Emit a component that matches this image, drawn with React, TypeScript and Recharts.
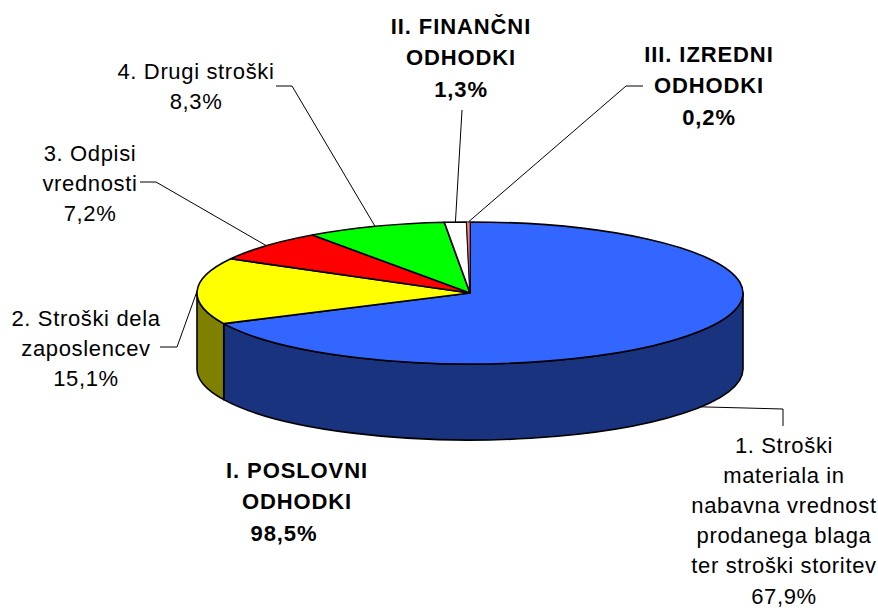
import { Pie, PieChart } from "recharts";

const FONT = '"Liberation Sans", Arial, sans-serif';
const RX = 273;
const RY = 71;
const DEPTH = 76;
const CX = 470;
const CY = 293;

const categories = [
  ["1. Stroški", "materiala in", "nabavna vrednost", "prodanega blaga", "ter stroški storitev"],
  ["2. Stroški dela", "zaposlencev"],
  ["3. Odpisi", "vrednosti"],
  ["4. Drugi stroški"],
  ["II. FINANČNI", "ODHODKI"],
  ["III. IZREDNI", "ODHODKI"],
];
const values = [67.9, 15.1, 7.2, 8.3, 1.3, 0.2];
const topColors = ["#3366ff", "#ffff00", "#ff0000", "#00ff00", "#ffffff", "#ff8080"];
const sideColors = ["#19337f", "#808000", "#800000", "#008000", "#808080", "#804040"];
const boldSlices = [false, false, false, false, true, true];

// label block: centre x, centre y of the first line
const labelX = [784, 86, 90, 196, 461, 709];
const labelY = [445, 318, 153, 71, 26, 54];
// elbow of each leader line, starting at the label side
const leaderPaths: number[][][] = [
  [[783, 426], [783, 409]],
  [[160, 347], [177, 347]],
  [[140, 182], [156, 182]],
  [[276, 86], [292, 86]],
  [[462, 110]],
  [[643, 86], [626, 86]],
];

const totalLines = ["I. POSLOVNI", "ODHODKI", "98,5%"];
const totalX = [297, 297, 284];

const data = values.map((value, i) => ({
  name: categories[i].join(" "),
  value,
  fill: topColors[i],
}));
const sideData = values.map((value, i) => ({
  name: categories[i].join(" "),
  value,
  fill: sideColors[i],
}));

const LINE_HEIGHT = 30.2;
const BOLD_LINE_HEIGHT = 31.5;

function pt(cx: number, cy: number, deg: number) {
  const a = (deg * Math.PI) / 180;
  return [cx + RX * Math.cos(a), cy - RY * Math.sin(a)];
}

function TopSlice(props: any) {
  const { cx, cy, startAngle, endAngle, fill } = props;
  const [x1, y1] = pt(cx, cy, startAngle);
  const [x2, y2] = pt(cx, cy, endAngle);
  const span = Math.abs(startAngle - endAngle);
  const large = span > 180 ? 1 : 0;
  const d = `M${cx},${cy} L${x1},${y1} A${RX},${RY} 0 ${large} 1 ${x2},${y2} Z`;
  // very thin slice would vanish under a full outline
  return <path d={d} fill={fill} stroke="#000" strokeWidth={span < 2 ? 0.7 : 1.6} strokeLinejoin="round" />;
}

// wall under the slice, only the part on the front half of the ellipse
function SideSlice(props: any) {
  const { cx, cy, startAngle, endAngle, fill } = props;
  const from = Math.min(startAngle, 0);
  const to = Math.max(endAngle, -180);
  if (from <= to) return <g />;
  const [x1, y1] = pt(cx, cy, from);
  const [x2, y2] = pt(cx, cy, to);
  const d =
    `M${x1},${y1} A${RX},${RY} 0 0 1 ${x2},${y2} L${x2},${y2 + DEPTH} ` +
    `A${RX},${RY} 0 0 0 ${x1},${y1 + DEPTH} Z`;
  return <path d={d} fill={fill} stroke="#000" strokeWidth={1.6} strokeLinejoin="round" />;
}

function SliceLabel(props: any) {
  const { cx, cy, midAngle, index, value } = props;
  const [ax, ayTop] = pt(cx, cy, midAngle);
  // the big slice's leader starts at the bottom of its wall
  const ay = Math.sin((midAngle * Math.PI) / 180) < 0 ? ayTop + DEPTH : ayTop;
  const line = [...leaderPaths[index], [ax, ay]].map((p) => p.join(",")).join(" ");
  const lines = [...categories[index], `${String(value).replace(".", ",")}%`];
  const bold = boldSlices[index];
  return (
    <g>
      <polyline points={line} fill="none" stroke="#000" strokeWidth={1} />
      {lines.map((t, i) => (
        <text
          key={i}
          x={labelX[index]}
          y={labelY[index] + i * (bold ? BOLD_LINE_HEIGHT : LINE_HEIGHT)}
          textAnchor="middle"
          dominantBaseline="central"
          fontFamily={FONT}
          fontSize={22}
          fontWeight={bold ? 700 : 400}
          letterSpacing={bold ? 0.9 : 0.65}
          fill="#000"
        >
          {t}
        </text>
      ))}
    </g>
  );
}

export default function App() {
  return (
    <div style={{ position: "absolute", left: 0, top: 0, width: 878, height: 608, background: "#fff" }}>
      <PieChart width={878} height={608} margin={{ top: 0, right: 0, bottom: 0, left: 0 }}>
        <Pie
          data={sideData}
          dataKey="value"
          cx={CX}
          cy={CY}
          outerRadius={RX}
          startAngle={90}
          endAngle={-270}
          stroke="none"
          shape={SideSlice}
          isAnimationActive={false}
        />
        <Pie
          data={data}
          dataKey="value"
          cx={CX}
          cy={CY}
          outerRadius={RX}
          startAngle={90}
          endAngle={-270}
          stroke="none"
          shape={TopSlice}
          label={SliceLabel}
          labelLine={false}
          isAnimationActive={false}
        />
        {totalLines.map((t, i) => (
          <text
            key={t}
            x={totalX[i]}
            y={470 + i * BOLD_LINE_HEIGHT}
            textAnchor="middle"
            dominantBaseline="central"
            fontFamily={FONT}
            fontSize={22}
            fontWeight={700}
            letterSpacing={0.9}
            fill="#000"
          >
            {t}
          </text>
        ))}
      </PieChart>
    </div>
  );
}
